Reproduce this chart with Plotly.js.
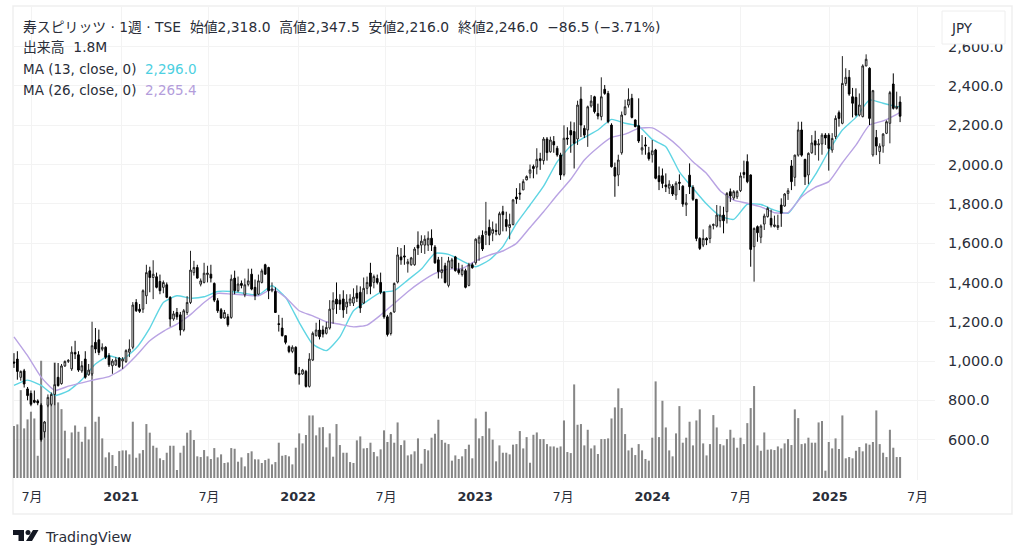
<!DOCTYPE html>
<html><head><meta charset="utf-8">
<script src="https://cdn.plot.ly/plotly-3.0.1.min.js"></script>
<style>html,body{margin:0;padding:0;background:#fff}#c{width:1024px;height:558px}</style>
</head><body><div id="c"></div>
<script>
const startDate = '2020-05-25';
const open = [995,1010,917,950,858,835,800,797,775,640,
775,780,830,917,885,975,998,960,1044,1032,
950,1010,930,935,1095,1108,1060,1070,1027,976,
980,1015,1000,998,1045,1070,1298,1264,1264,1332,
1459,1425,1429,1405,1375,1388,1324,1214,1247,1235,
1158,1247,1298,1450,1476,1391,1400,1440,1442,1395,
1307,1261,1219,1225,1222,1422,1358,1395,1337,1390,
1442,1375,1340,1400,1490,1476,1358,1354,1190,1168,
1129,1073,1049,1070,937,934,947,871,1005,1129,
1158,1158,1141,1168,1264,1315,1310,1316,1275,1295,
1295,1345,1350,1295,1370,1448,1400,1420,1400,1350,
1225,1140,1250,1402,1530,1535,1495,1490,1490,1590,
1590,1590,1590,1625,1580,1515,1450,1485,1385,1475,
1530,1465,1440,1460,1385,1490,1500,1600,1640,1645,
1680,1650,1665,1645,1760,1720,1680,1695,1835,1855,
1871,1922,1956,1990,1987,2030,2020,2130,2065,2117,
2083,2049,1950,2135,2173,2168,2130,2333,2184,2176,
2298,2345,2260,2244,2383,2362,2201,1985,1947,2060,
2255,2303,2337,2227,2198,2074,2100,2060,2050,2074,
1943,1943,1896,1880,1890,1845,1910,1890,1795,1946,
1884,1823,1624,1590,1624,1624,1690,1687,1714,1743,
1760,1862,1830,1836,1867,1960,2015,1947,1582,1684,
1630,1697,1735,1726,1685,1680,1794,1789,1853,1993,
1935,2048,2176,2026,1947,2060,2121,2100,2105,2150,
2150,2074,2142,2264,2210,2413,2444,2345,2342,2252,
2244,2502,2490,2049,2138,2066,2094,2159,2210,2410,2286,2318];
const high = [1040,1050,952,960,868,850,850,805,785,695,
830,840,990,990,985,1003,1010,1075,1103,1050,
1000,1050,985,1200,1168,1160,1090,1075,1040,1010,
1020,1020,1020,1060,1110,1300,1315,1290,1365,1490,
1480,1513,1450,1440,1410,1400,1330,1255,1270,1250,
1265,1330,1561,1510,1490,1420,1500,1485,1490,1400,
1320,1270,1260,1240,1440,1460,1430,1410,1420,1470,
1470,1415,1440,1470,1495,1480,1400,1375,1235,1220,
1130,1080,1080,1075,970,960,955,1040,1150,1195,
1210,1180,1200,1310,1350,1400,1340,1360,1340,1340,
1370,1385,1380,1425,1430,1500,1440,1440,1450,1355,
1235,1250,1400,1580,1575,1590,1520,1530,1580,1660,
1640,1640,1660,1670,1590,1530,1530,1500,1530,1525,
1535,1500,1490,1470,1500,1500,1625,1640,1665,1810,
1720,1710,1700,1760,1790,1760,1750,1825,1880,1905,
1925,1945,2000,2000,2083,2060,2140,2140,2142,2145,
2095,2060,2200,2190,2219,2215,2325,2396,2200,2300,
2354,2350,2310,2444,2405,2375,2210,2010,2050,2270,
2330,2388,2360,2230,2337,2150,2140,2090,2125,2080,
1990,1980,1955,1920,1900,1915,1950,1895,1850,2006,
1895,1825,1630,1670,1630,1695,1700,1794,1790,1785,
1860,1878,1870,1870,1960,2020,2052,1950,1680,1690,
1695,1750,1785,1770,1740,1745,1828,1855,1880,2023,
2050,2218,2218,2030,2062,2150,2172,2130,2160,2160,
2160,2160,2250,2275,2552,2490,2481,2390,2388,2362,
2510,2561,2495,2380,2176,2108,2160,2225,2375,2464,2371,2347.5];
const low = [965,905,900,865,800,770,785,775,590,610,
765,770,775,870,880,970,990,950,1010,945,
940,910,925,925,1040,1030,1050,1010,970,935,
975,965,960,990,1020,1060,1250,1245,1245,1290,
1350,1315,1370,1340,1345,1320,1175,1205,1210,1130,
1150,1235,1290,1435,1420,1380,1395,1400,1400,1300,
1245,1215,1215,1175,1215,1340,1350,1370,1325,1380,
1360,1310,1335,1395,1440,1315,1350,1245,1150,1125,
1085,1040,1040,930,880,930,865,865,1000,1125,
1110,1120,1135,1160,1190,1240,1260,1220,1240,1280,
1280,1300,1245,1290,1340,1340,1370,1390,1340,1215,
1125,1130,1245,1395,1490,1490,1450,1485,1485,1540,
1550,1545,1560,1560,1495,1420,1420,1395,1375,1470,
1455,1440,1430,1370,1380,1470,1490,1510,1560,1590,
1590,1610,1640,1640,1660,1660,1620,1690,1800,1820,
1870,1920,1930,1930,1950,1973,2000,2020,2060,2060,
2040,1922,1940,2100,2060,1980,2100,2140,2135,2090,
2290,2260,2230,2225,2355,2210,1985,1836,1890,2050,
2250,2290,2235,2190,2110,2050,2050,2020,2010,1925,
1870,1880,1860,1850,1840,1820,1870,1785,1738,1850,
1815,1610,1565,1580,1590,1600,1670,1680,1680,1650,
1700,1810,1820,1825,1860,1930,1905,1480,1404,1607,
1600,1667,1730,1680,1680,1667,1683,1785,1820,1870,
1890,2040,2040,1896,1900,2055,2048,2020,2050,2100,
1969,2060,2130,2193,2205,2400,2350,2240,2245,2245,
2240,2500,2201,2040,2048,2003,2060,2155,2108,2280,2280,2216];
const close = [990,947,947,883,824,780,790,787,600,690,
815,830,880,875,975,998,1003,1045,1036,954,
976,917,954,1078,1061,1044,1070,1019,981,1000,
1005,971,1010,1053,1061,1285,1256,1253,1358,1450,
1425,1442,1375,1358,1400,1324,1214,1240,1225,1158,
1256,1298,1463,1476,1422,1408,1447,1448,1422,1310,
1256,1219,1247,1185,1417,1358,1392,1385,1388,1408,
1366,1332,1408,1459,1442,1358,1366,1247,1186,1129,
1095,1049,1070,937,930,954,871,1010,1141,1158,
1124,1137,1171,1264,1307,1290,1290,1260,1300,1316,
1325,1320,1270,1370,1400,1380,1430,1400,1350,1225,
1135,1245,1395,1540,1515,1530,1505,1525,1570,1575,
1610,1620,1625,1590,1500,1455,1465,1400,1510,1515,
1460,1450,1465,1375,1490,1475,1620,1630,1570,1660,
1640,1670,1660,1750,1745,1685,1695,1820,1825,1850,
1913,1939,1973,1980,2027,2020,2130,2061,2125,2100,
2049,1947,2134,2130,2151,2108,2303,2201,2150,2294,
2323,2269,2247,2345,2362,2218,1989,1941,2023,2252,
2294,2332,2240,2193,2120,2086,2095,2030,2070,1930,
1913,1904,1887,1900,1850,1905,1905,1799,1805,1887,
1823,1624,1573,1624,1616,1687,1695,1743,1743,1714,
1853,1840,1862,1862,1942,1950,1913,1568,1675,1653,
1687,1738,1777,1692,1693,1690,1752,1850,1867,1913,
2048,2176,2048,1938,2057,2110,2099,2105,2150,2135,
2082,2133,2235,2235,2413,2444,2359,2312,2252,2303,
2502,2536,2235,2376,2094,2094,2155,2218,2366,2286,2295,2246];
const volumeM = [4.46,4.60,7.54,4.26,5.03,5.69,5.11,1.91,10.06,4.54,
6.54,6.40,9.91,6.49,5.91,4.06,1.69,3.91,4.51,3.97,
3.11,4.40,3.31,9.00,4.83,5.26,3.40,1.77,2.20,1.97,
1.03,2.31,2.37,2.37,2.03,4.83,1.74,2.11,2.40,4.63,
3.89,2.77,2.60,1.69,1.54,2.17,2.77,2.77,0.69,2.17,
2.77,3.89,4.11,3.26,1.86,1.80,2.40,1.86,1.63,2.57,
1.77,2.03,1.29,1.34,2.57,2.51,1.40,1.77,1.00,2.14,
2.29,1.60,1.60,1.29,1.54,1.66,1.17,1.37,3.03,1.91,
1.97,1.86,1.17,2.60,3.83,2.97,3.69,5.37,5.37,3.66,
4.34,4.37,2.63,3.83,1.83,4.63,2.83,2.17,2.17,1.37,
1.29,3.23,3.57,2.54,2.57,3.03,2.23,1.86,2.46,4.09,
3.09,3.77,3.03,4.77,2.83,3.23,1.94,2.03,2.29,3.40,
1.23,2.49,2.37,3.46,3.80,5.00,3.26,3.03,2.91,1.49,
1.94,1.63,1.86,2.49,2.86,1.69,5.11,3.40,3.60,5.69,
4.26,3.29,1.43,2.80,2.17,2.17,2.03,2.86,2.91,4.03,
2.54,3.51,1.31,3.71,3.91,3.34,3.34,2.91,2.71,2.71,
2.60,2.71,4.94,2.23,2.14,8.03,4.57,4.63,2.80,4.14,
2.54,2.80,2.06,3.34,3.34,3.40,5.11,6.06,7.69,6.00,
3.77,2.37,2.60,1.97,2.91,2.37,1.63,1.49,3.46,8.29,
3.51,6.63,4.34,2.37,1.86,3.83,6.17,3.03,3.46,4.83,
2.80,4.94,5.89,2.97,1.94,2.91,5.40,4.34,2.91,2.80,
3.34,4.14,3.46,2.60,3.46,2.91,4.71,6.00,7.89,2.80,
2.34,3.91,2.43,2.46,2.40,2.71,2.54,2.97,3.34,2.83,
5.89,5.14,2.91,2.97,3.46,3.03,3.03,4.77,4.89,0.63,
3.09,2.54,3.40,2.49,5.37,1.69,1.80,1.69,2.34,2.66,
2.29,2.97,2.86,3.09,5.80,2.91,2.17,1.80,4.14,2.60,1.80,1.80];
const maWeeks = [0,4,8,12,16,20,24,28,32,36,40,44,48,52,56,60,64,68,72,76,80,84,88,92,96,100,104,108,112,116,120,124,128,132,136,140,144,148,152,156,160,164,168,172,176,180,184,188,192,196,200,204,208,212,216,220,224,228,232,236,240,244,248,252,256,260,261];
const ma13 = [876,903,876,825,848,905,985,1027,1010,1066,1168,1298,1332,1320,1327,1354,1354,1344,1336,1383,1324,1197,1086,1053,1123,1256,1305,1349,1358,1412,1468,1548,1543,1510,1480,1514,1582,1700,1794,1890,2014,2094,2138,2176,2230,2210,2196,2128,2091,1963,1879,1799,1738,1721,1798,1797,1768,1752,1845,1947,2069,2176,2240,2329,2312,2295,2296];
const ma26 = [1123,1027,918,850,872,889,906,921,960,1027,1103,1151,1188,1236,1298,1344,1341,1336,1332,1366,1324,1256,1230,1200,1187,1174,1183,1234,1293,1353,1404,1446,1468,1471,1510,1539,1560,1599,1680,1760,1845,1925,2023,2087,2138,2155,2184,2187,2145,2087,2014,1955,1867,1819,1803,1785,1755,1755,1836,1884,1913,2009,2099,2201,2222,2256,2265.4];
const tickDates = ['2020-07-01','2021-01-01','2021-07-01','2022-01-01','2022-07-01','2023-01-01','2023-07-01','2024-01-01','2024-07-01','2025-01-01','2025-07-01'];
const tickLabels = ['7月','<b>2021</b>','7月','<b>2022</b>','7月','<b>2023</b>','7月','<b>2024</b>','7月','<b>2025</b>','7月'];
const priceTicks = [600,800,1000,1200,1400,1600,1800,2000,2200,2400,2600];
const header = '寿スピリッツ · 1週 · TSE  始値2,318.0  高値2,347.5  安値2,216.0  終値2,246.0  −86.5 (−3.71%)';
const volLine = '出来高  1.8M';
const ma13Label = 'MA (13, close, 0)', ma13Value = '2,296.0';
const ma26Label = 'MA (26, close, 0)', ma26Value = '2,265.4';

const DAY = 86400000;
const t0 = Date.parse(startDate + 'T00:00:00Z');
const dateOf = i => new Date(t0 + i * 7 * DAY).toISOString().slice(0, 10);
const dates = open.map((_, i) => dateOf(i));
const maDates = maWeeks.map(dateOf);

const FONT = '"DejaVu Sans","Noto Sans CJK JP",sans-serif';
const TXT = '#2a2e39';
const GRID = '#f3f3f3';
const L = 13, R = 935, T = 6, B = 480;
const px = x => (x - L) / (R - L);
const py = y => (B - y) / (B - T);
const priceRange = [394.5, 2807];
const volRange = [-0.17, 40.5];

const traces = [
  {type:'bar', x:dates, y:volumeM, yaxis:'y', width:7*DAY*0.6, marker:{color:'#868686', line:{width:0}}, hoverinfo:'skip', showlegend:false},
  {type:'scatter', mode:'lines', x:maDates, y:ma13, yaxis:'y2', line:{color:'#5fd5e3', width:1.4, shape:'spline', smoothing:0.5}, hoverinfo:'skip', showlegend:false},
  {type:'scatter', mode:'lines', x:maDates, y:ma26, yaxis:'y2', line:{color:'#b9a3e3', width:1.4, shape:'spline', smoothing:0.5}, hoverinfo:'skip', showlegend:false},
  {type:'candlestick', x:dates, open:open, high:high, low:low, close:close, yaxis:'y3', whiskerwidth:0, width:7*DAY*0.62,
    increasing:{line:{color:'#222', width:1}, fillcolor:'#ffffff'},
    decreasing:{line:{color:'#000', width:1}, fillcolor:'#000000'}, hoverinfo:'skip', showlegend:false}
];

const note = (x, y, text, size) => ({xref:'paper', yref:'paper', x:px(x-2), y:py(y), xanchor:'left', yanchor:'middle', showarrow:false, text:text, font:{family:FONT, size:size||13.5, color:TXT}});
const logo = 'M13 530 L24 530 L24 541 L18.5 541 L18.5 535 L13 535 Z M33 530 L38.5 530 L32 541 L26 541 Z';
const logoPath = logo.replace(/([ML]) ?([\d.]+) ([\d.]+)/g, (m, c, a, b) => c + px(+a).toFixed(5) + ' ' + py(+b).toFixed(5) + ' ');

const layout = {
  width:1024, height:558, paper_bgcolor:'#fff', plot_bgcolor:'#fff',
  margin:{l:L, r:1024-R, t:T, b:558-B, pad:0},
  bargap:0.4, showlegend:false, dragmode:false,
  xaxis:{type:'date', range:['2020-05-23','2025-08-06'], tickmode:'array', tickvals:tickDates, ticktext:tickLabels,
    showgrid:true, gridcolor:GRID, gridwidth:1, zeroline:false, showline:false, ticks:'', rangeslider:{visible:false},
    tickfont:{family:FONT, size:12.8, color:TXT}, ticklabelstandoff:7},
  yaxis:{range:volRange, visible:false, fixedrange:true},
  yaxis2:{range:priceRange, overlaying:'y', visible:false, fixedrange:true},
  yaxis3:{range:priceRange, overlaying:'y', side:'right', tickmode:'array', tickvals:priceTicks, tickformat:',.1f',
    showgrid:true, gridcolor:GRID, gridwidth:1, zeroline:false, showline:false, ticks:'', ticklabelstandoff:12,
    tickfont:{family:FONT, size:14.5, color:TXT}},
  shapes:[
    {type:'rect', xref:'paper', yref:'paper', x0:px(13), x1:px(1012), y0:py(514), y1:py(6), line:{color:'#efefef', width:1.5}, fillcolor:'rgba(0,0,0,0)', layer:'below'},
    {type:'rect', xref:'paper', yref:'paper', x0:px(942), x1:px(1005), y0:py(44), y1:py(11), line:{color:'#eeeeee', width:1}, fillcolor:'#ffffff', layer:'above'},
    {type:'path', xref:'paper', yref:'paper', path:logoPath, fillcolor:'#131722', line:{width:0}, layer:'above'},
    {type:'circle', xref:'paper', yref:'paper', x0:px(25.5), x1:px(30.5), y0:py(535), y1:py(530), fillcolor:'#131722', line:{width:0}, layer:'above'}
  ],
  annotations:[
    note(23, 27, header, 13.85),
    note(23, 47, volLine, 13.85),
    note(23, 69, ma13Label + '  <span style="color:#4dd0e1">' + ma13Value + '</span>'),
    note(23, 90, ma26Label + '  <span style="color:#b39ddb">' + ma26Value + '</span>'),
    note(951, 28, 'JPY', 13.5),
    note(45, 537, 'TradingView', 14.2)
  ]
};
Plotly.newPlot('c', traces, layout, {staticPlot:true, displayModeBar:false});
</script></body></html>
